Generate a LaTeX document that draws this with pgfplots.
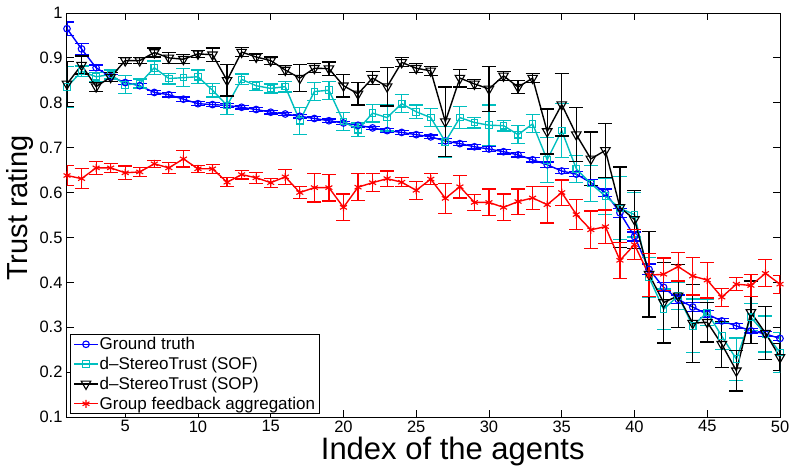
\documentclass[border=0pt]{standalone}
\usepackage{fontspec}
\setmainfont{Liberation Sans}
\usepackage{pgfplots}
\pgfplotsset{compat=1.18}
\usepackage{pgfplotstable}
\definecolor{mcyan}{rgb}{0,0.75,0.75}

\pgfplotstableread{
x y e
1 0.965 0.015
2 0.920 0.012
3 0.878 0.006
4 0.858 0.005
5 0.845 0.005
6 0.838 0.005
7 0.823 0.005
8 0.818 0.005
9 0.808 0.005
10 0.798 0.004
11 0.796 0.004
12 0.794 0.004
13 0.790 0.004
14 0.785 0.004
15 0.779 0.004
16 0.775 0.004
17 0.770 0.004
18 0.765 0.004
19 0.760 0.004
20 0.755 0.004
21 0.750 0.004
22 0.744 0.004
23 0.738 0.004
24 0.734 0.004
25 0.729 0.004
26 0.724 0.004
27 0.715 0.005
28 0.709 0.005
29 0.702 0.005
30 0.697 0.005
31 0.691 0.005
32 0.684 0.005
33 0.673 0.005
34 0.662 0.006
35 0.648 0.006
36 0.641 0.006
37 0.622 0.007
38 0.600 0.008
39 0.555 0.010
40 0.502 0.010
41 0.429 0.012
42 0.389 0.010
43 0.362 0.010
44 0.345 0.010
45 0.329 0.008
46 0.314 0.006
47 0.303 0.005
48 0.292 0.005
49 0.285 0.005
50 0.275 0.005
}\gt

\pgfplotstableread{
x y e
1 0.835 0.045
2 0.870 0.012
3 0.858 0.010
4 0.863 0.010
5 0.840 0.020
6 0.843 0.010
7 0.878 0.015
8 0.854 0.012
9 0.856 0.020
10 0.858 0.015
11 0.828 0.015
12 0.794 0.020
13 0.852 0.012
14 0.838 0.010
15 0.832 0.010
16 0.836 0.012
17 0.760 0.030
18 0.825 0.020
19 0.828 0.020
20 0.758 0.020
21 0.740 0.015
22 0.777 0.020
23 0.767 0.030
24 0.798 0.020
25 0.780 0.015
26 0.767 0.020
27 0.713 0.035
28 0.767 0.025
29 0.756 0.012
30 0.750 0.045
31 0.749 0.012
32 0.729 0.020
33 0.753 0.020
34 0.673 0.050
35 0.738 0.060
36 0.653 0.030
37 0.620 0.040
38 0.592 0.040
39 0.565 0.070
40 0.551 0.050
41 0.411 0.045
42 0.340 0.045
43 0.370 0.030
44 0.303 0.060
45 0.333 0.030
46 0.280 0.030
47 0.229 0.047
48 0.322 0.030
49 0.285 0.040
50 0.244 0.045
}\sof

\pgfplotstableread{
x y e
1 0.842 0.050
2 0.884 0.020
3 0.836 0.010
4 0.857 0.010
5 0.894 0.007
6 0.894 0.007
7 0.912 0.010
8 0.900 0.012
9 0.897 0.010
10 0.909 0.008
11 0.907 0.015
12 0.850 0.035
13 0.913 0.010
14 0.902 0.007
15 0.894 0.008
16 0.873 0.010
17 0.855 0.030
18 0.877 0.010
19 0.876 0.015
20 0.838 0.025
21 0.820 0.025
22 0.855 0.015
23 0.836 0.043
24 0.890 0.010
25 0.877 0.010
26 0.871 0.010
27 0.758 0.077
28 0.855 0.020
29 0.842 0.010
30 0.831 0.050
31 0.860 0.010
32 0.835 0.015
33 0.855 0.010
34 0.736 0.050
35 0.796 0.070
36 0.729 0.060
37 0.675 0.060
38 0.694 0.060
39 0.567 0.090
40 0.540 0.065
41 0.418 0.095
42 0.355 0.090
43 0.370 0.070
44 0.309 0.087
45 0.311 0.044
46 0.262 0.051
47 0.203 0.045
48 0.333 0.070
49 0.287 0.059
50 0.233 0.030
}\sop

\pgfplotstableread{
x y e
1 0.638 0.023
2 0.631 0.022
3 0.655 0.015
4 0.655 0.010
5 0.644 0.015
6 0.646 0.010
7 0.664 0.008
8 0.655 0.012
9 0.675 0.018
10 0.653 0.008
11 0.653 0.010
12 0.623 0.010
13 0.640 0.010
14 0.633 0.012
15 0.622 0.010
16 0.635 0.017
17 0.600 0.013
18 0.611 0.032
19 0.611 0.030
20 0.567 0.030
21 0.612 0.030
22 0.622 0.020
23 0.631 0.017
24 0.623 0.010
25 0.605 0.020
26 0.630 0.012
27 0.587 0.033
28 0.613 0.025
29 0.578 0.018
30 0.578 0.030
31 0.567 0.030
32 0.580 0.028
33 0.588 0.026
34 0.573 0.041
35 0.600 0.028
36 0.551 0.033
37 0.517 0.042
38 0.524 0.037
39 0.449 0.040
40 0.484 0.033
41 0.416 0.048
42 0.418 0.036
43 0.435 0.032
44 0.414 0.042
45 0.405 0.040
46 0.367 0.020
47 0.396 0.015
48 0.393 0.025
49 0.420 0.030
50 0.396 0.020
}\gfa

\begin{document}
\begin{tikzpicture}
\begin{axis}[
  at={(0,0)}, anchor=south west,
  scale only axis, width=713pt, height=404pt,
  xmin=1, xmax=50, ymin=0.1, ymax=1,
  xtick={5,10,...,50},
  ytick={0.1,0.2,0.3,0.4,0.5,0.6,0.7,0.8,0.9,1},
  tick align=inside, tick pos=both,
  major tick length=7pt,
  axis line style={line width=1pt},
  every tick/.style={line width=0.8pt, black},
  /pgf/number format/assume math mode=true,
  tick label style={font=\fontsize{16.5}{18}\selectfont},
  yticklabel style={xshift=-1pt},
  xlabel={Index of the agents},
  ylabel={Trust rating},
  xlabel style={font=\fontsize{31}{33}\selectfont, at={(axis description cs:0.541,-0.049)}, anchor=north, inner sep=0pt, text height=22.3pt, text depth=6.5pt},
  ylabel style={font=\fontsize{29}{31}\selectfont, at={(axis description cs:-0.047,0.517)}, anchor=south, inner sep=0pt},
  legend style={at={(rel axis cs:0.004,0.007)}, anchor=south west,
    font=\fontsize{17}{19}\selectfont, draw=black, line width=1pt,
    nodes={inner sep=1pt}, cells={anchor=west}, row sep=4pt},
  legend image code/.code={\draw[mark repeat=2,mark phase=2] plot coordinates {(0cm,0cm) (0.42cm,0cm) (0.84cm,0cm)};},
  error bars/error bar style={line width=1.2pt},
  error bars/error mark options={rotate=90, mark size=7pt, line width=1.2pt},
]
\addplot[blue, line width=1.4pt, mark=o, mark size=3.3pt, mark options={solid, line width=1.1pt},
  error bars/.cd, y dir=both, y explicit] table[x=x, y=y, y error=e] {\gt};
\addlegendentry{Ground truth}
\addplot[mcyan, line width=1.4pt, mark=square, mark size=3.3pt, mark options={solid, line width=1.1pt},
  error bars/.cd, y dir=both, y explicit] table[x=x, y=y, y error=e] {\sof};
\addlegendentry{d--StereoTrust (SOF)}
\addplot[black, line width=1.4pt, mark=triangle, mark size=5.5pt, mark options={solid, rotate=180, line width=1.1pt},
  error bars/.cd, y dir=both, y explicit] table[x=x, y=y, y error=e] {\sop};
\addlegendentry{d--StereoTrust (SOP)}
\addplot[red, line width=1.4pt, mark=asterisk, mark size=4pt, mark options={solid, line width=1.1pt},
  error bars/.cd, y dir=both, y explicit] table[x=x, y=y, y error=e] {\gfa};
\addlegendentry{Group feedback aggregation}
\end{axis}
\pgfresetboundingbox
\path (-67pt,-49pt) rectangle (724pt,417pt);
\end{tikzpicture}
\end{document}
